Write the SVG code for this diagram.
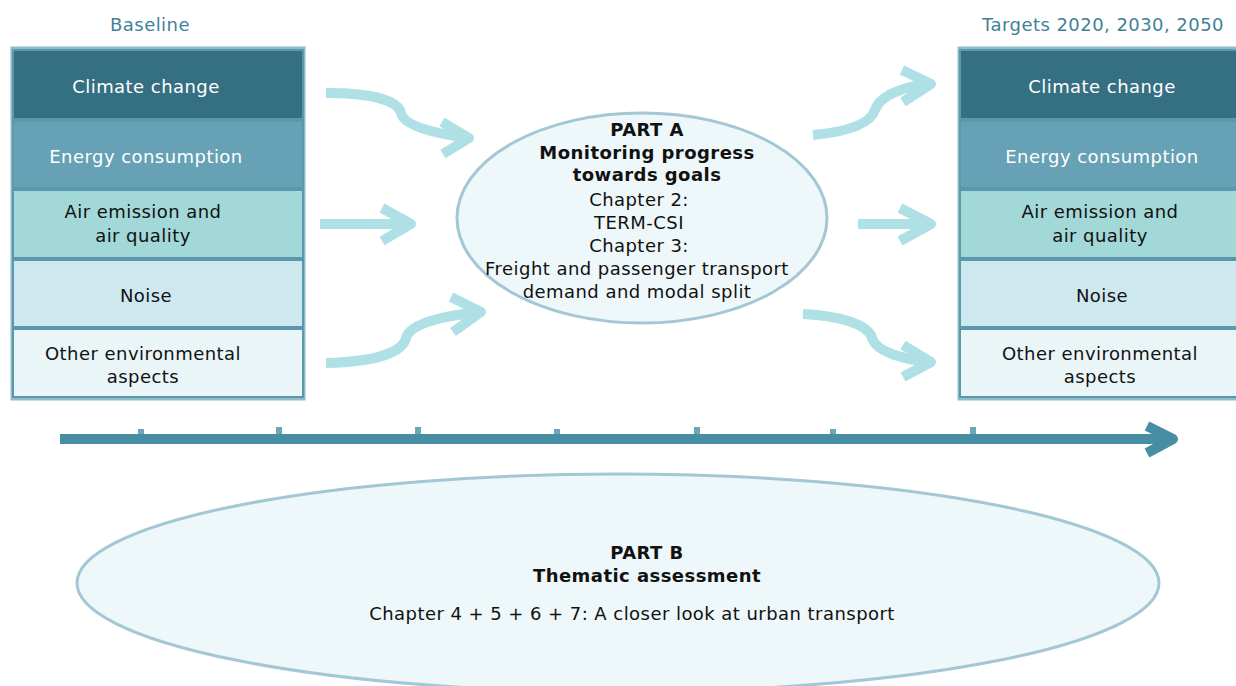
<svg xmlns="http://www.w3.org/2000/svg" width="1236" height="686" viewBox="0 0 1236 686">
<defs>
<style>
text{font-family:"DejaVu Sans","Verdana",sans-serif;font-size:18px;letter-spacing:0.45px;text-anchor:middle}
.w{fill:#ffffff}
.k{fill:#111111}
.b{font-weight:bold}
.hdr{fill:#3f8197}
.r1{fill:#356f82}
.r2{fill:#66a1b5}
.r3{fill:#a2d8d8}
.r4{fill:#cde9ef}
.r5{fill:#eaf5f8}
.row{stroke:#5b98ab;stroke-width:2}
.frame{fill:none;stroke:#8ebccb;stroke-width:3}
.ell{fill:#eef7f9;stroke:#a3c7d5;stroke-width:3}
.arr{fill:none;stroke:#aee0e6;stroke-width:10;stroke-linejoin:round}
.tl{fill:none;stroke:#478ea4;stroke-width:10}
.tick{fill:#6ba6b9}
</style>
</defs>
<rect width="1236" height="686" fill="#ffffff"/>
<text class="hdr" x="150" y="31">Baseline</text>
<text class="hdr" x="1103" y="31">Targets 2020, 2030, 2050</text>

<g id="baseline">
<rect class="frame" x="12" y="48" width="292" height="351"/>
<g id="b-climate"><rect class="row r1" x="13" y="50" width="290" height="69"/><text class="w" x="146" y="93">Climate change</text></g>
<g id="b-energy"><rect class="row r2" x="13" y="121" width="290" height="67"/><text class="w" x="146" y="163">Energy consumption</text></g>
<g id="b-air"><rect class="row r3" x="13" y="190" width="290" height="68"/><text class="k" x="143" y="218">Air emission and</text><text class="k" x="143" y="242">air quality</text></g>
<g id="b-noise"><rect class="row r4" x="13" y="260" width="290" height="67"/><text class="k" x="146" y="302">Noise</text></g>
<g id="b-other"><rect class="row r5" x="13" y="329" width="290" height="68"/><text class="k" x="143" y="360">Other environmental</text><text class="k" x="143" y="383">aspects</text></g>
</g>

<g id="targets">
<rect class="frame" x="959" y="48" width="292" height="351"/>
<g id="t-climate"><rect class="row r1" x="960" y="50" width="290" height="69"/><text class="w" x="1102" y="93">Climate change</text></g>
<g id="t-energy"><rect class="row r2" x="960" y="121" width="290" height="67"/><text class="w" x="1102" y="163">Energy consumption</text></g>
<g id="t-air"><rect class="row r3" x="960" y="190" width="290" height="68"/><text class="k" x="1100" y="218">Air emission and</text><text class="k" x="1100" y="242">air quality</text></g>
<g id="t-noise"><rect class="row r4" x="960" y="260" width="290" height="67"/><text class="k" x="1102" y="302">Noise</text></g>
<g id="t-other"><rect class="row r5" x="960" y="329" width="290" height="68"/><text class="k" x="1100" y="360">Other environmental</text><text class="k" x="1100" y="383">aspects</text></g>
</g>

<g id="partA">
<ellipse class="ell" cx="642" cy="218" rx="185" ry="105"/>
<text class="k b" x="647" y="136">PART A</text>
<text class="k b" x="647" y="159">Monitoring progress</text>
<text class="k b" x="647" y="181">towards goals</text>
<text class="k" x="639" y="206">Chapter 2:</text>
<text class="k" x="639" y="229">TERM-CSI</text>
<text class="k" x="639" y="252">Chapter 3:</text>
<text class="k" x="637" y="275">Freight and passenger transport</text>
<text class="k" x="637" y="298">demand and modal split</text>
</g>

<g id="partB">
<ellipse class="ell" cx="618" cy="583" rx="541" ry="109"/>
<text class="k b" x="647" y="559">PART B</text>
<text class="k b" x="647" y="582">Thematic assessment</text>
<text class="k" x="632" y="620">Chapter 4 + 5 + 6 + 7: A closer look at urban transport</text>
</g>

<g id="timeline">
<rect class="tick" x="138" y="429" width="6" height="6"/>
<rect class="tick" x="276" y="427" width="6" height="8"/>
<rect class="tick" x="415" y="427" width="6" height="8"/>
<rect class="tick" x="554" y="429" width="6" height="6"/>
<rect class="tick" x="694" y="427" width="6" height="8"/>
<rect class="tick" x="830" y="429" width="6" height="6"/>
<rect class="tick" x="970" y="427" width="6" height="8"/>
<path class="tl" d="M60,439 H1172"/>
<path class="tl" d="M1147,426 L1173,439 L1147,453" stroke-linejoin="round"/>
</g>

<g id="connectors">
<path class="arr" d="M326,93 C370,93 398,100 401,113 C404,127 440,134 468,138"/>
<path class="arr" d="M442,122 L469,138 L443,154"/>
<path class="arr" d="M320,224 H411"/>
<path class="arr" d="M382,208 L411,224 L382,241"/>
<path class="arr" d="M326,363 C370,362 402,354 406,338 C410,322 450,315 481,312"/>
<path class="arr" d="M451,297 L481,312 L453,332"/>
<path class="arr" d="M813,135 C845,132 870,125 875,110 C880,95 905,86 931,84"/>
<path class="arr" d="M902,70 L931,84 L903,102"/>
<path class="arr" d="M858,224 H931"/>
<path class="arr" d="M900,208 L931,224 L900,241"/>
<path class="arr" d="M803,314 C840,316 868,324 872,338 C876,352 905,360 931,362"/>
<path class="arr" d="M903,345 L931,362 L903,377"/>
</g>
</svg>
